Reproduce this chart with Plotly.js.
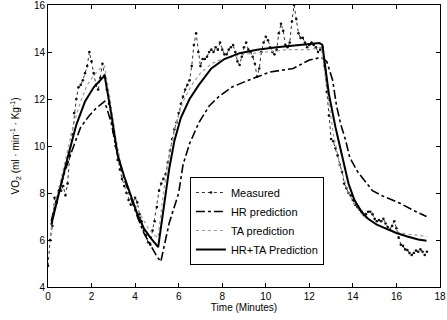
<!DOCTYPE html>
<html>
<head>
<meta charset="utf-8">
<script src="https://cdn.plot.ly/plotly-3.0.1.min.js"></script>
<style>html,body{margin:0;padding:0;background:#fff;}#chart{width:447px;height:320px;}</style>
</head>
<body>
<div id="chart"></div>
<script>
// Measured VO2, sampled every 0.1 min from 0 to 17.4
const measuredStart = 0;
const measuredStep = 0.1;
const measuredVO2 = [
 4.9, 6.0, 6.6, 7.8, 7.6, 8.1, 8.1, 8.3, 7.9, 8.4,
 9.6, 10.5, 11.4, 12.0, 12.5, 12.6, 12.8, 13.1, 13.4, 14.0,
 13.6, 13.1, 12.6, 12.4, 12.9, 13.5, 13.0, 12.4, 11.8, 11.2,
 10.6, 10.0, 9.4, 9.0, 8.6, 8.3, 8.0, 7.7, 7.5, 7.6,
 7.8, 7.6, 7.1, 6.8, 6.4, 6.2, 5.9, 5.8, 6.4, 6.8,
 7.4, 8.1, 8.4, 8.6, 8.8, 9.3, 9.8, 10.3, 10.7, 11.0,
 11.4, 11.8, 12.1, 12.4, 12.6, 12.8, 13.4, 14.3, 14.8, 14.0,
 13.4, 13.7, 13.7, 13.8, 14.0, 14.1, 14.0, 14.2, 14.1, 14.4,
 14.1, 13.9, 13.9, 14.1, 14.2, 14.3, 14.0, 13.6, 13.45, 13.8,
 14.2, 14.4, 14.1, 14.0, 13.8, 13.5, 12.95, 13.3, 14.0, 14.4,
 14.65, 14.5, 14.2, 14.0, 13.9, 14.1, 14.8, 15.2, 14.9, 14.3,
 14.2, 14.4, 15.3, 16.0, 15.4, 14.8, 14.6, 14.6, 14.4, 14.2,
 14.3, 14.4, 14.3, 14.2, 14.0, 14.1, 14.2, 13.4, 12.3, 11.3,
 10.3, 10.2, 9.9, 9.6, 9.2, 8.9, 8.4, 8.2, 8.0, 7.9,
 7.7, 7.5, 7.4, 7.3, 7.2, 7.06, 7.1, 7.2, 7.2, 7.1,
 6.9, 6.8, 6.85, 6.8, 6.9, 6.7, 6.55, 6.45, 6.6, 6.8,
 6.5, 6.1, 5.8, 5.75, 5.6, 5.57, 5.45, 5.36, 5.45, 5.55,
 5.5, 5.6, 5.5, 5.36, 5.5
];
const measuredTime = measuredVO2.map((_, i) => +(measuredStart + i * measuredStep).toFixed(2));

// HR prediction
const hrTime = [0.15, 0.35, 0.55, 0.8, 1.1, 1.5, 1.9, 2.2, 2.6, 2.9, 3.2, 3.5, 3.8, 4.1, 4.4, 4.7, 5.0, 5.18, 5.56, 6.0, 6.2, 6.5, 6.93, 7.4, 7.84, 8.43, 9.2, 10.2, 11.26, 12.0, 12.55, 12.8, 13.07, 13.25, 13.45, 13.65, 13.86, 14.22, 14.9, 15.3, 15.8, 16.19, 16.8, 17.38];
const hrVO2 = [6.8, 7.6, 8.2, 9.0, 9.8, 10.8, 11.3, 11.6, 11.9, 11.0, 9.6, 8.6, 7.8, 7.0, 6.3, 5.8, 5.3, 5.08, 6.7, 8.0, 9.2, 10.1, 11.0, 11.7, 12.1, 12.5, 12.8, 13.15, 13.3, 13.66, 13.77, 13.6, 12.8, 11.7, 10.9, 10.3, 9.5, 8.9, 8.1, 7.9, 7.7, 7.55, 7.25, 7.0];

// TA prediction
const taTime = [0.1, 0.3, 0.6, 0.9, 1.2, 1.5, 1.8, 2.1, 2.4, 2.6, 2.8, 3.1, 3.4, 3.7, 4.0, 4.3, 4.6, 4.9, 5.05, 5.3, 5.6, 5.9, 6.2, 6.6, 7.0, 7.5, 8.0, 9.0, 10.0, 11.0, 12.0, 12.55, 12.8, 13.1, 13.4, 13.7, 14.0, 14.5, 15.0, 15.5, 16.0, 16.5, 17.0, 17.4];
const taVO2 = [6.2, 7.4, 8.6, 9.8, 11.0, 11.9, 12.6, 13.0, 13.3, 13.4, 12.3, 10.4, 9.0, 8.1, 7.5, 7.0, 6.5, 6.2, 6.1, 8.0, 9.8, 11.0, 11.9, 12.6, 13.1, 13.5, 13.7, 13.9, 14.0, 14.1, 14.1, 14.2, 12.5, 10.5, 9.2, 8.3, 7.6, 7.0, 6.7, 6.5, 6.35, 6.25, 6.2, 6.15];

// HR+TA prediction
const hrtaTime = [0.15, 0.5, 0.9, 1.3, 1.7, 2.1, 2.4, 2.6, 2.9, 3.2, 3.5, 3.8, 4.1, 4.4, 4.7, 5.06, 5.3, 5.56, 5.8, 6.1, 6.5, 6.93, 7.5, 8.1, 8.8, 9.6, 10.5, 11.5, 12.47, 12.6, 12.9, 13.2, 13.4, 13.6, 13.8, 14.07, 14.4, 14.7, 15.1, 15.6, 16.0, 16.5, 17.0, 17.38];
const hrtaVO2 = [6.65, 8.0, 9.5, 10.9, 11.9, 12.5, 12.8, 13.0, 11.4, 9.6, 8.7, 7.9, 7.1, 6.5, 6.1, 5.7, 7.2, 9.0, 10.2, 11.2, 12.0, 12.6, 13.3, 13.7, 13.95, 14.1, 14.2, 14.3, 14.38, 14.3, 12.2, 10.8, 10.0, 9.1, 8.4, 7.7, 7.2, 6.9, 6.65, 6.45, 6.3, 6.15, 6.02, 5.97];

const seriesNames = ['Measured', 'HR prediction', 'TA prediction', 'HR+TA Prediction'];
const xTicks = [0, 2, 4, 6, 8, 10, 12, 14, 16, 18];
const yTicks = [4, 6, 8, 10, 12, 14, 16];

const font = 'Arial, "Liberation Sans", Helvetica, sans-serif';

const traces = [
  {x: measuredTime, y: measuredVO2, name: seriesNames[0], type: 'scatter', mode: 'lines+markers',
   line: {color: '#333', width: 1, dash: 'dot'}, marker: {color: '#111', size: 2.6}},
  {x: hrTime, y: hrVO2, name: seriesNames[1], type: 'scatter', mode: 'lines',
   line: {color: '#000', width: 1.6, dash: 'dashdot'}},
  {x: taTime, y: taVO2, name: seriesNames[2], type: 'scatter', mode: 'lines',
   line: {color: '#999', width: 1.2, dash: 'dot'}},
  {x: hrtaTime, y: hrtaVO2, name: seriesNames[3], type: 'scatter', mode: 'lines',
   line: {color: '#000', width: 2}}
];

const axisCommon = {
  showgrid: false, zeroline: false, showline: true, linecolor: '#000', linewidth: 1,
  mirror: 'ticks', ticks: 'inside', ticklen: 4, tickcolor: '#000', tickwidth: 1,
  ticklabeloverflow: 'allow',
  tickfont: {family: font, size: 10, color: '#000'}
};

const layout = {
  width: 447, height: 320,
  margin: {l: 48, r: 7, t: 5, b: 33},
  paper_bgcolor: '#fff', plot_bgcolor: '#fff',
  font: {family: font, size: 10, color: '#000'},
  xaxis: Object.assign({}, axisCommon, {
    range: [0, 18], tickvals: xTicks, ticktext: xTicks.map(String),
    title: {text: 'Time (Minutes)', font: {family: font, size: 10, color: '#000'}, standoff: 2}
  }),
  yaxis: Object.assign({}, axisCommon, {
    range: [4, 16], tickvals: yTicks, ticktext: yTicks.map(String),
    title: {text: 'VO<sub>2</sub> (ml · min<sup>-1</sup> · Kg<sup>-1</sup>)', font: {family: font, size: 10, color: '#000'}, standoff: 12}
  }),
  showlegend: true,
  legend: {x: 0.362, y: 0.39, xanchor: 'left', yanchor: 'top',
    bgcolor: '#fff', bordercolor: '#000', borderwidth: 1,
    font: {family: font, size: 11, color: '#000'}, tracegroupgap: 0}
};

Plotly.newPlot('chart', traces, layout, {staticPlot: true, displayModeBar: false});
</script>
</body>
</html>
